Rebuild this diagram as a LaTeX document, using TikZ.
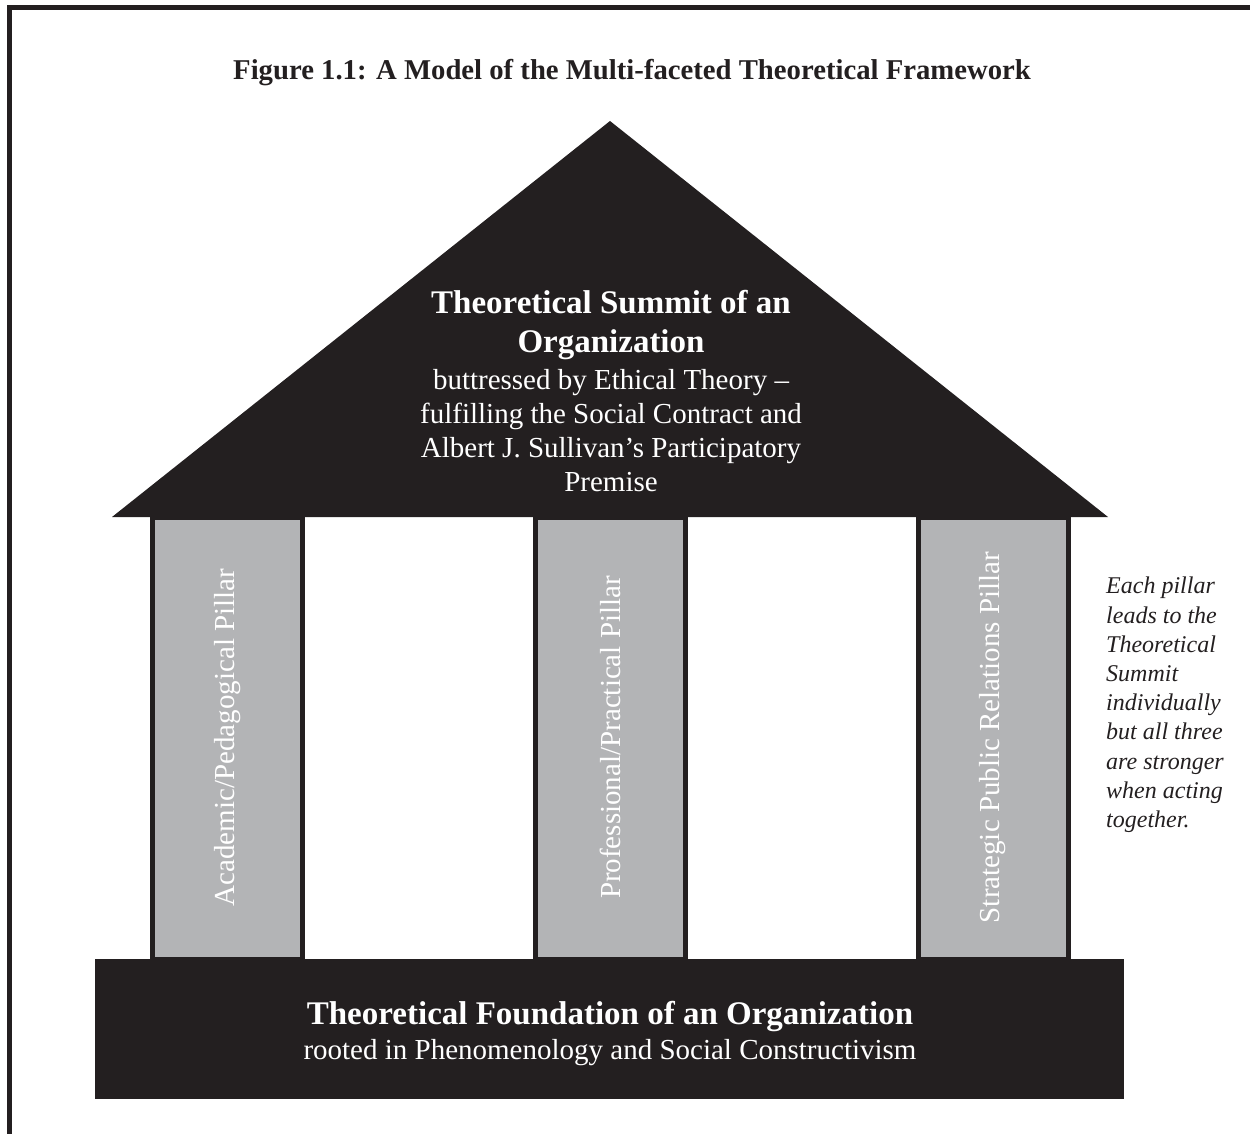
\documentclass[tikz,border=0pt]{standalone}
\usepackage{fontspec}
\setmainfont{Liberation Serif}
\definecolor{housedark}{HTML}{231F20}
\definecolor{pillargrey}{HTML}{B3B4B6}
\tikzset{
  heading/.style={font=\fontsize{33}{39}\selectfont\bfseries, text=white, align=center, inner sep=0pt},
  plain/.style={font=\fontsize{29}{34}\selectfont, text=white, align=center, inner sep=0pt},
  pillar/.style={draw=housedark, fill=pillargrey, line width=5pt},
  note/.style={font=\fontsize{24}{29.2}\selectfont\itshape, text=housedark, align=left, inner sep=0pt}
}
\begin{document}
\begin{tikzpicture}[x=1pt,y=-1pt]
\useasboundingbox (0,0) rectangle (1250,1134);
% frame
\draw[housedark, line width=5pt] (9.5,1134) -- (9.5,7.5) -- (1250,7.5);
\node[anchor=base, inner sep=0pt, text=housedark, font=\fontsize{28.7}{34}\selectfont\bfseries] (title) at (632,80)
  {Figure 1.1: A Model of the Multi-faceted Theoretical Framework};
% pillars
\foreach \k/\x/\t in {1/227.5/{Academic/Pedagogical Pillar}, 2/610/{Professional/Practical Pillar}, 3/993/{Strategic Public Relations Pillar}}
  \draw[pillar] (\x-75,517) rectangle (\x+75,959) node[plain, rotate=90] (pillar\k) at (\x,737.5) {\t};
% roof and foundation
\fill[housedark] (112,517) -- (610,121) -- (1108,517) -- cycle;
\fill[housedark] (95,959) rectangle (1124,1099);
\node[heading] (summithead) at (611,325) {Theoretical Summit of an\\Organization};
\node[plain] (summittext) at (611,431) {buttressed by Ethical Theory –\\fulfilling the Social Contract and\\Albert J. Sullivan’s Participatory\\Premise};
\node[heading, anchor=base] (basehead) at (610,1024) {Theoretical Foundation of an Organization};
\node[plain, anchor=base] (basetext) at (610,1059) {rooted in Phenomenology and Social Constructivism};
% side note
\node[note, anchor=north west] (pillarnote) at (1106,577) {Each pillar\\leads to the\\Theoretical\\Summit\\individually\\but all three\\are stronger\\when acting\\together.};
\end{tikzpicture}
\end{document}
